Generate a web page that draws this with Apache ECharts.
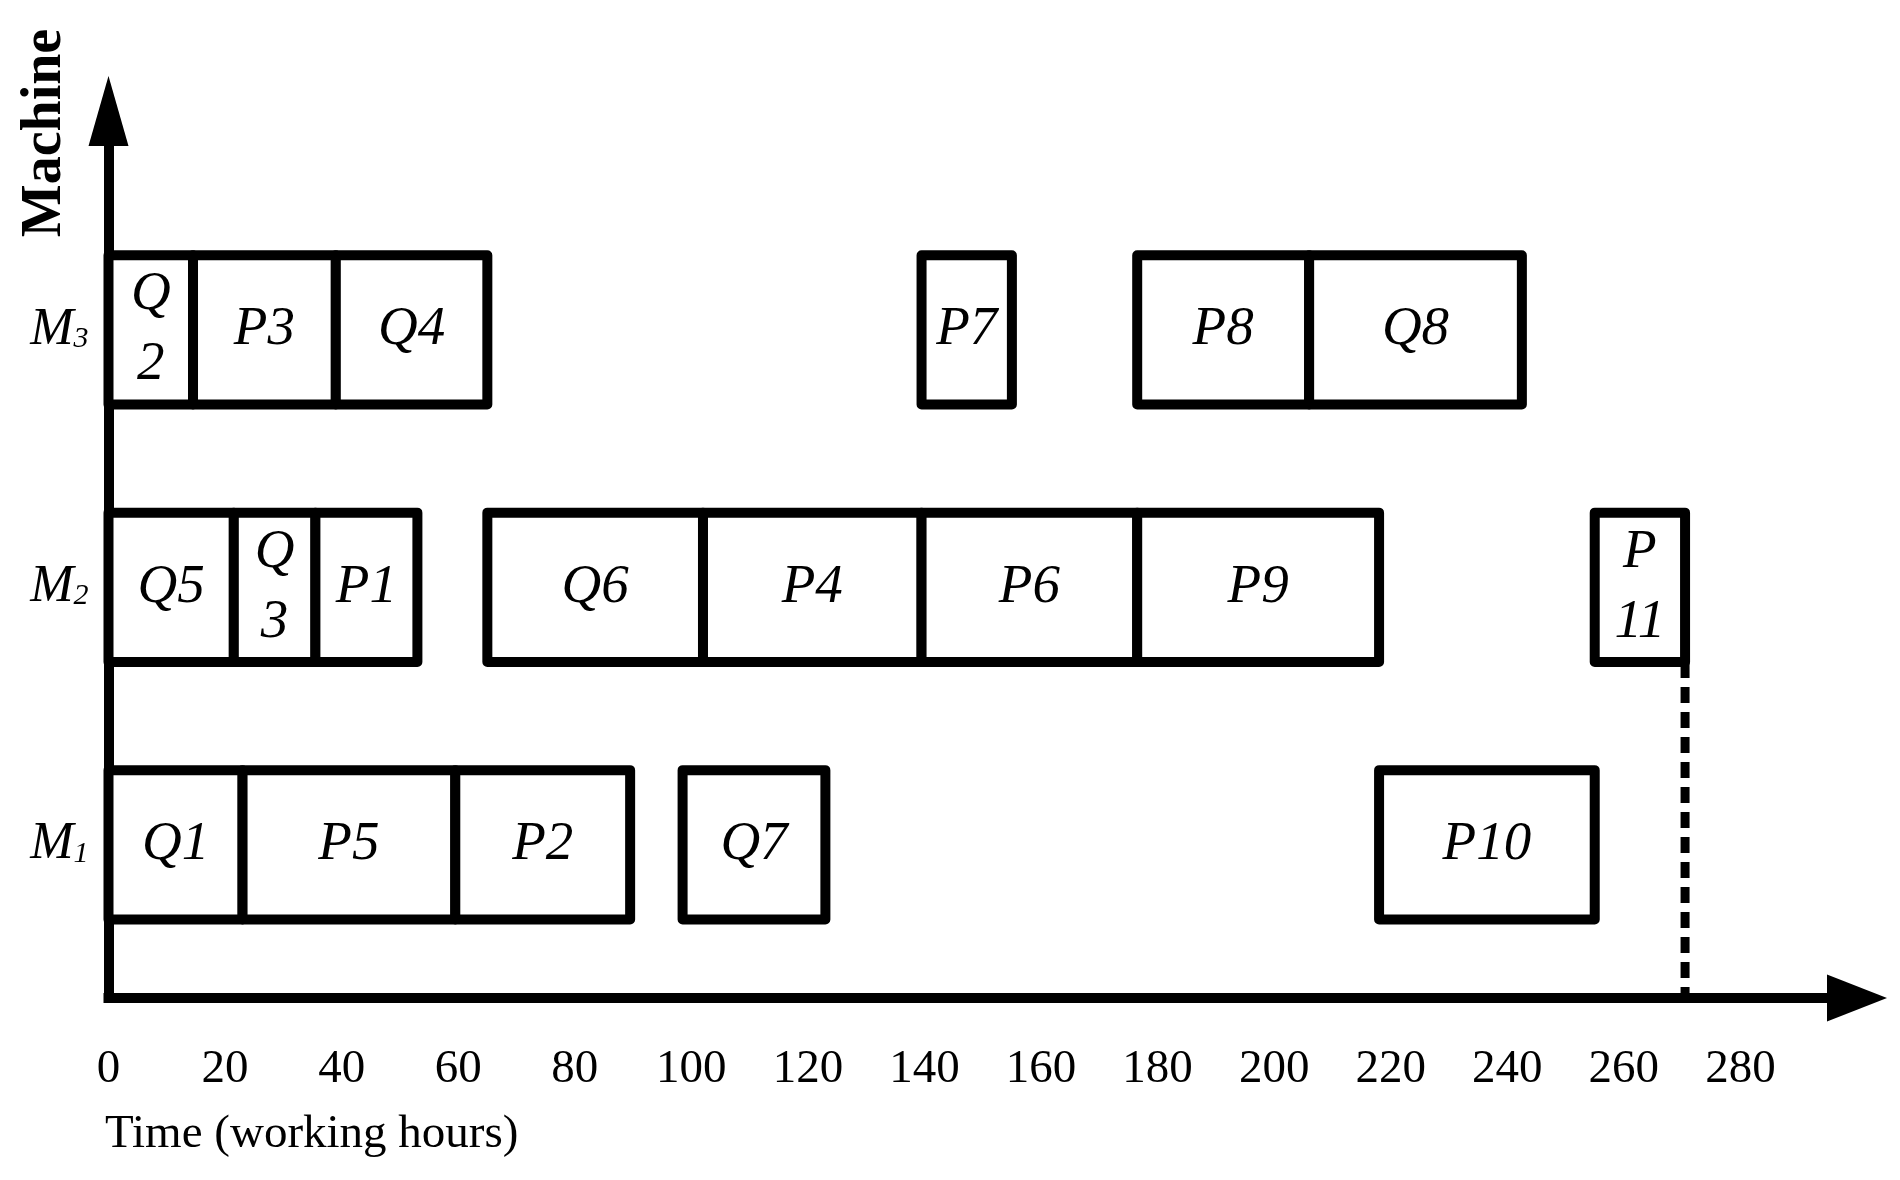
<!DOCTYPE html>
<html>
<head>
<meta charset="utf-8">
<title>Machine schedule</title>
<script src="https://cdn.jsdelivr.net/npm/echarts@6/dist/echarts.min.js"></script>
<style>
  html, body { margin: 0; padding: 0; background: #fff; }
  #main { width: 1900px; height: 1180px; }
</style>
</head>
<body>
<div id="main"></div>
<script>
// machines, bottom to top (y value 1, 2, 3)
const machines = ['M1', 'M2', 'M3'];

// time tick labels on the x axis
const timeTicks = [0, 20, 40, 60, 80, 100, 120, 140, 160, 180, 200, 220, 240, 260, 280];

// jobs (working hours)
const taskLabels  = ['Q1', 'P5', 'P2', 'Q7', 'P10',
                     'Q5', 'Q\n3', 'P1', 'Q6', 'P4', 'P6', 'P9', 'P\n11',
                     'Q\n2', 'P3', 'Q4', 'P7', 'P8', 'Q8'];
const taskMachine = [1, 1, 1, 1, 1,
                     2, 2, 2, 2, 2, 2, 2, 2,
                     3, 3, 3, 3, 3, 3];
const taskStart   = [0, 23, 59.5, 98.5, 218,
                     0, 21.5, 35.5, 65, 102, 139.5, 176.5, 255,
                     0, 14.5, 39, 139.5, 176.5, 206];
const taskEnd     = [23, 59.5, 89.5, 123, 255,
                     21.5, 35.5, 53, 102, 139.5, 176.5, 218, 270.5,
                     14.5, 39, 65, 155, 206, 242.5];

// makespan
const makespan = 270.5;

const BAR_HALF = 0.29;
const Y_MIN = 0.405;
const SERIF = "'Liberation Serif', 'Times New Roman', serif";

const taskData = taskLabels.map((name, i) => ({
  name: name,
  value: [taskMachine[i], taskStart[i], taskEnd[i]]
}));

var myChart = echarts.init(document.getElementById('main'));

myChart.setOption({
  animation: false,
  backgroundColor: '#fff',
  grid: { left: 108.5, right: 43, top: 111, bottom: 182 },
  xAxis: {
    type: 'value',
    min: 0,
    max: 300,
    axisLine: {
      onZero: false,
      symbol: ['none', 'triangle'],
      symbolSize: [47, 60],
      lineStyle: { color: '#000', width: 10, cap: 'square' }
    },
    axisTick: { show: false },
    splitLine: { show: false },
    axisLabel: {
      customValues: timeTicks,
      margin: 48,
      color: '#000',
      fontFamily: SERIF,
      fontSize: 47
    }
  },
  yAxis: {
    type: 'value',
    min: Y_MIN,
    max: 3.85,
    axisLine: {
      onZero: false,
      symbol: ['none', 'triangle'],
      symbolSize: [40, 70],
      lineStyle: { color: '#000', width: 10, cap: 'square' }
    },
    axisTick: { show: false },
    splitLine: { show: false },
    axisLabel: {
      customValues: [1, 2, 3],
      margin: 20,
      formatter: function (v) {
        const s = machines[Math.round(v) - 1];
        return '{m|' + s.charAt(0) + '}{s|' + s.slice(1) + '}';
      },
      rich: {
        m: { fontFamily: SERIF, fontStyle: 'italic', fontSize: 52, color: '#000',
             verticalAlign: 'bottom', lineHeight: 52 },
        s: { fontFamily: SERIF, fontStyle: 'italic', fontSize: 30, color: '#000',
             verticalAlign: 'bottom', lineHeight: 30, padding: [0, 0, 2, 0] }
      }
    }
  },
  graphic: [
    {
      type: 'text',
      x: 46,
      y: 133,
      rotation: Math.PI / 2,
      style: {
        text: 'Machine',
        fill: '#000',
        font: 'bold 56px ' + SERIF,
        textAlign: 'center',
        textVerticalAlign: 'middle'
      }
    },
    {
      type: 'text',
      x: 105,
      y: 1135,
      style: {
        text: 'Time (working hours)',
        fill: '#000',
        font: '47px ' + SERIF,
        textAlign: 'left',
        textVerticalAlign: 'middle'
      }
    }
  ],
  series: [
    {
      type: 'custom',
      data: taskData,
      encode: { x: [1, 2], y: 0 },
      renderItem: function (params, api) {
        const m = api.value(0);
        const p0 = api.coord([api.value(1), m + BAR_HALF]);
        const p1 = api.coord([api.value(2), m - BAR_HALF]);
        const label = taskLabels[params.dataIndex];
        return {
          type: 'rect',
          shape: { x: p0[0], y: p0[1], width: p1[0] - p0[0], height: p1[1] - p0[1] },
          style: { fill: '#fff', stroke: '#000', lineWidth: 10, lineJoin: 'round' },
          textContent: {
            style: {
              text: label,
              fill: '#000',
              font: 'italic 55px ' + SERIF,
              align: 'center',
              verticalAlign: 'middle',
              lineHeight: 70
            }
          },
          textConfig: { position: 'inside' }
        };
      }
    },
    {
      type: 'line',
      symbol: 'none',
      data: [[makespan, 2 - BAR_HALF], [makespan, Y_MIN]],
      lineStyle: { color: '#000', width: 9, type: [16, 9], cap: 'butt' },
      z: 3
    }
  ]
});

window.addEventListener('resize', () => myChart.resize());
</script>
</body>
</html>
